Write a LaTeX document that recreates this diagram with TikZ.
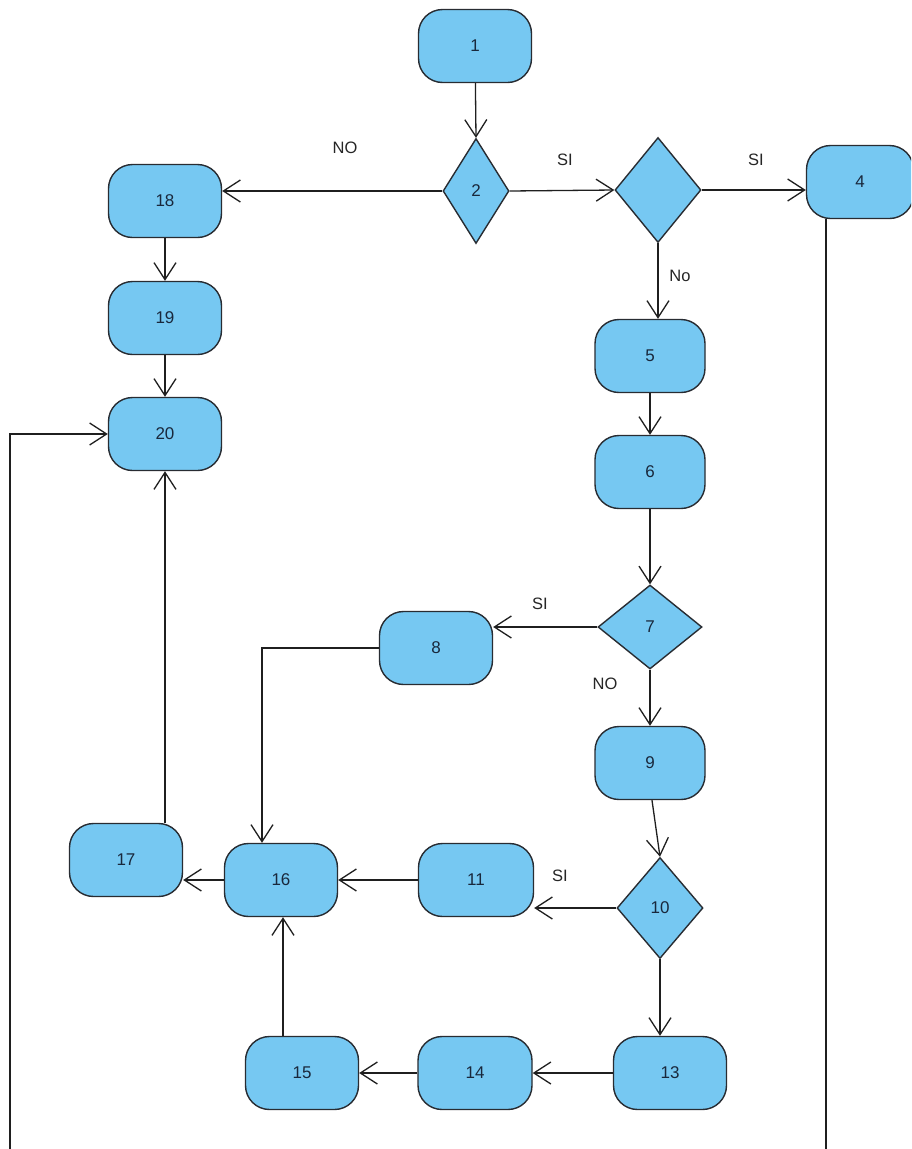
\documentclass[tikz,border=0pt]{standalone}
\usepackage{fontspec}
\setmainfont{Liberation Sans}
\usetikzlibrary{shapes.geometric,arrows.meta,calc}
\definecolor{boxfill}{RGB}{118,200,242}
\definecolor{boxline}{RGB}{40,44,50}
\definecolor{boxtext}{RGB}{25,40,60}
\tikzset{
  base/.style={draw=boxline, fill=boxfill, line width=1.4pt, text=boxtext,
    font=\fontsize{17}{20}\selectfont, inner sep=0pt},
  stepbox/.style={base, rectangle, rounded corners=24pt,
    minimum width=113pt, minimum height=73pt},
  choice/.style={base, diamond},
  flow/.style={draw=black!88, line width=1.3pt,
    -{Straight Barb[length=17pt,width=22pt,line width=1.3pt]}},
  plain/.style={draw=black!88, line width=1.3pt},
  lbl/.style={font=\fontsize{16.5}{20}\selectfont, text=black!85}
}
\begin{document}
\begin{tikzpicture}[x=1pt,y=-1pt]
\clip (0,0) rectangle (911,1149);
\fill[white] (0,0) rectangle (911,1149);

% process boxes
\node[stepbox] (n1)  at (475,46)   {1};
\node[stepbox, minimum width=107pt] (n4) at (860,182) {4};
\node[stepbox] (n18) at (165,201)  {18};
\node[stepbox] (n19) at (165,318)  {19};
\node[stepbox] (n20) at (165,434)  {20};
\node[stepbox, minimum width=110pt] (n5)  at (650,356)  {5};
\node[stepbox, minimum width=110pt] (n6)  at (650,472)  {6};
\node[stepbox] (n8)  at (436,648)  {8};
\node[stepbox, minimum width=110pt] (n9)  at (650,763)  {9};
\node[stepbox, minimum width=115pt] (n11) at (476,880)  {11};
\node[stepbox] (n16) at (281,880)  {16};
\node[stepbox] (n17) at (126,860)  {17};
\node[stepbox] (n13) at (670,1073) {13};
\node[stepbox, minimum width=114pt] (n14) at (475,1073) {14};
\node[stepbox] (n15) at (302,1073) {15};

% decisions
\node[choice, minimum width=66pt,  minimum height=105pt] (d2)  at (476,191) {2};
\node[choice, minimum width=86pt,  minimum height=105pt] (d3)  at (658,190) {};
\node[choice, minimum width=104pt, minimum height=84pt]  (d7)  at (650,627) {7};
\node[choice, minimum width=86pt,  minimum height=101pt] (d10) at (660,908) {10};

% free ends of the two long lines
\coordinate (leftfoot)  at (10,1149);
\coordinate (leftknee)  at (10,434);
\coordinate (rightfoot) at (826,1149);

% connectors
\draw[flow] (n1) -- (d2.north);
\draw[flow] (d2.east) -- (d3.west);
\draw[flow] (d3.east) -- (d3.east -| n4.west);
\draw[flow] (d2.west) -- (d2.west -| n18.east);
\draw[flow] (n18) -- (n19);
\draw[flow] (n19) -- (n20);
\draw[flow] (d3.south) -- (d3.south |- n5.north);
\draw[flow] (n5) -- (n6);
\draw[flow] (n6) -- (d7.north);
\draw[flow] (d7.west) -- (d7.west -| n8.east);
\draw[flow] (d7.south) -- (n9.north);
\draw[flow] (n8.west) -| ($(n16.north)+(-19,0)$);
\draw[flow] ($(n9.south)+(2,0)$) -- (d10.north);
\draw[flow] (d10.west) -- (d10.west -| n11.east);
\draw[flow] (d10.south) -- (d10.south |- n13.north);
\draw[flow] (n11) -- (n16);
\draw[flow] (n13) -- (n14);
\draw[flow] (n14) -- (n15);
\draw[flow] ($(n15.north)+(-19,0)$) -- ($(n16.south)+(2,0)$);
\draw[flow] (n16.west) -- (n16.west -| n17.east);
\draw[flow] ($(n17.north)+(39,0)$) -- (n20.south);
\draw[flow] (leftfoot) -- (leftknee) -- (n20.west);
\draw[plain] ($(n4.south)+(-34,0)$) -- (rightfoot);

% branch labels
\node[lbl] (tno2)  at (345,148) {NO};
\node[lbl] (tsi2)  at (565,160) {SI};
\node[lbl] (tsi3)  at (756,160) {SI};
\node[lbl] (tno3)  at (680,276) {No};
\node[lbl] (tsi7)  at (540,604) {SI};
\node[lbl] (tno7)  at (605,684) {NO};
\node[lbl] (tsi10) at (560,876) {SI};
\end{tikzpicture}
\end{document}
